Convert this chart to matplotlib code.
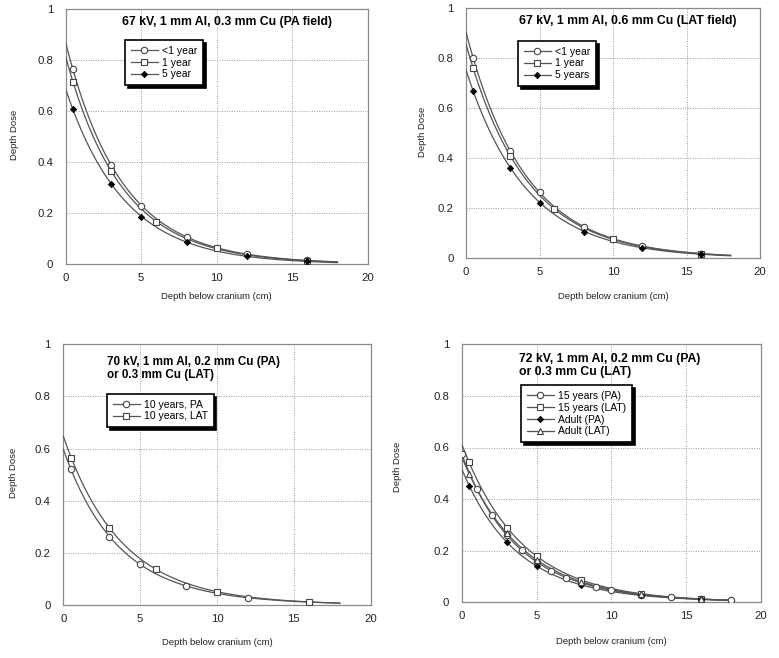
import numpy as np
import matplotlib
matplotlib.use("Agg")
import matplotlib.pyplot as plt
from matplotlib.lines import Line2D

plt.rcParams['font.family'] = ['Liberation Sans', 'DejaVu Sans']

# ---------------- data ----------------
# Panel A: 67 kV, 1 mm Al, 0.3 mm Cu (PA field)
a_lt1_x = [0.5, 3, 5, 8, 12, 16]
a_lt1_y = [0.765, 0.39, 0.229, 0.106, 0.041, 0.015]
a_1y_x = [0.5, 3, 6, 10, 16]
a_1y_y = [0.716, 0.366, 0.165, 0.062, 0.014]
a_5y_x = [0.5, 3, 5, 8, 12, 16]
a_5y_y = [0.609, 0.315, 0.187, 0.086, 0.032, 0.011]

# Panel B: 67 kV, 1 mm Al, 0.6 mm Cu (LAT field)
b_lt1_x = [0.5, 3, 5, 8, 12, 16]
b_lt1_y = [0.80, 0.429, 0.265, 0.127, 0.049, 0.019]
b_1y_x = [0.5, 3, 6, 10, 16]
b_1y_y = [0.76, 0.41, 0.197, 0.076, 0.018]
b_5y_x = [0.5, 3, 5, 8, 12, 16]
b_5y_y = [0.671, 0.363, 0.223, 0.107, 0.043, 0.016]

# Panel C: 70 kV
c_pa_x = [0.5, 3, 5, 8, 12]
c_pa_y = [0.521, 0.263, 0.157, 0.074, 0.029]
c_lat_x = [0.5, 3, 6, 10, 16]
c_lat_y = [0.566, 0.298, 0.139, 0.052, 0.013]

# Panel D: 72 kV
d_15pa_x = [0, 1, 2, 3, 4, 5, 6, 7, 8, 9, 10, 12, 14, 16, 18]
d_15pa_y = [0.575, 0.438, 0.337, 0.262, 0.203, 0.158, 0.123, 0.095, 0.075,
            0.059, 0.047, 0.029, 0.019, 0.012, 0.008]
d_15lat_x = [0.5, 3, 5, 8, 12, 16]
d_15lat_y = [0.545, 0.289, 0.178, 0.088, 0.033, 0.013]
d_adpa_x = [0.5, 3, 5, 8, 12, 16]
d_adpa_y = [0.452, 0.235, 0.141, 0.066, 0.027, 0.011]
d_adlat_x = [0.5, 3, 5, 8, 12, 16]
d_adlat_y = [0.497, 0.27, 0.165, 0.079, 0.031, 0.012]

xticks = [0, 5, 10, 15, 20]
yticks = [0, 0.2, 0.4, 0.6, 0.8, 1]
ytick_labels = ["0", "0.2", "0.4", "0.6", "0.8", "1"]
xlabel = "Depth below cranium (cm)"
ylabel = "Depth Dose"

LINE = '#555555'
GRID = '#9a9a9a'
SPINE = '#8a8a8a'

W, H = 779, 658
fig = plt.figure(figsize=(W / 100, H / 100), dpi=100)


def px_axes(l, t, r, b):
    return fig.add_axes([l / W, 1 - b / H, (r - l) / W, (b - t) / H])


MSTYLE = {
    'circle': dict(marker='o', mfc='white', mec='#444444', ms=4.6, mew=0.8),
    'square': dict(marker='s', mfc='white', mec='#444444', ms=4.6, mew=0.8),
    'filled': dict(marker='D', mfc='black', mec='black', ms=3.2, mew=0.6),
    'tri': dict(marker='^', mfc='white', mec='#444444', ms=4.8, mew=0.8),
}


def fit_curve(x, y):
    c = np.polyfit(np.asarray(x, float), np.log(np.asarray(y, float)), 2)
    xs = np.linspace(0, 18, 200)
    return xs, np.exp(np.polyval(c, xs))


def panel(ax, series, title_lines, title_pos, title_size, leg_pos,
          xl_y, yl_x, yl_y):
    ax.set_xlim(0, 20)
    ax.set_ylim(0, 1)
    ax.set_xticks(xticks)
    ax.set_xticklabels([str(v) for v in xticks])
    ax.set_yticks(yticks)
    ax.set_yticklabels(ytick_labels)
    ax.tick_params(length=0, labelsize=8.2, colors='#222222', pad=6)
    ax.tick_params(axis='y', pad=9)
    ax.grid(True, linestyle=(0, (1, 1.5)), color=GRID, linewidth=0.7)
    ax.set_axisbelow(True)
    for s in ax.spines.values():
        s.set_color(SPINE)
        s.set_linewidth(0.9)
    handles = []
    for x, y, style, lab in series:
        xs, ys = fit_curve(x, y)
        ax.plot(xs, ys, color=LINE, lw=0.9, zorder=3)
        ax.plot(x, y, linestyle='none', zorder=4, **MSTYLE[style])
        handles.append(Line2D([], [], color=LINE, lw=0.9, **MSTYLE[style]))
    ax.text(title_pos[0], title_pos[1], "\n".join(title_lines),
            transform=ax.transAxes, fontsize=title_size, fontweight='bold',
            ha='left', va='top', linespacing=1.1, zorder=6)
    leg = ax.legend(handles, [s[3] for s in series], loc='upper left',
                    bbox_to_anchor=leg_pos, fontsize=7.5, numpoints=1,
                    handlelength=2.6, handletextpad=0.4, labelspacing=0.18,
                    borderpad=0.55, borderaxespad=0, fancybox=False,
                    frameon=True, shadow={'color': 'black', 'alpha': 1.0},
                    framealpha=1)
    leg.get_frame().set_edgecolor('black')
    leg.get_frame().set_linewidth(1.2)
    leg.set_zorder(7)
    ax.set_xlabel(xlabel, fontsize=6.8, color='#222222')
    ax.set_ylabel(ylabel, fontsize=6.8, color='#222222')
    ax.xaxis.set_label_coords(0.5, xl_y)
    ax.yaxis.set_label_coords(yl_x, yl_y)


axA = px_axes(65.7, 9.3, 367.7, 264.3)
panel(axA,
      [(a_lt1_x, a_lt1_y, 'circle', '<1 year'),
       (a_1y_x, a_1y_y, 'square', '1 year'),
       (a_5y_x, a_5y_y, 'filled', '5 year')],
      ["67 kV, 1 mm Al, 0.3 mm Cu (PA field)"], (0.186, 0.975), 8.8,
      (0.196, 0.88), -0.11, -0.156, 0.507)

axB = px_axes(466, 8.3, 760, 258.3)
panel(axB,
      [(b_lt1_x, b_lt1_y, 'circle', '<1 year'),
       (b_1y_x, b_1y_y, 'square', '1 year'),
       (b_5y_x, b_5y_y, 'filled', '5 years')],
      ["67 kV, 1 mm Al, 0.6 mm Cu (LAT field)"], (0.181, 0.972), 8.8,
      (0.177, 0.87), -0.133, -0.134, 0.505)

axC = px_axes(63.3, 344.3, 370.7, 605.3)
panel(axC,
      [(c_pa_x, c_pa_y, 'circle', '10 years, PA'),
       (c_lat_x, c_lat_y, 'square', '10 years, LAT')],
      ["70 kV, 1 mm Al, 0.2 mm Cu (PA)", "or 0.3 mm Cu (LAT)"], (0.143, 0.955),
      8.4, (0.142, 0.81), -0.127, -0.146, 0.507)

axD = px_axes(461.7, 344.3, 761, 602.3)
panel(axD,
      [(d_15pa_x, d_15pa_y, 'circle', '15 years (PA)'),
       (d_15lat_x, d_15lat_y, 'square', '15 years (LAT)'),
       (d_adpa_x, d_adpa_y, 'filled', 'Adult (PA)'),
       (d_adlat_x, d_adlat_y, 'tri', 'Adult (LAT)')],
      ["72 kV, 1 mm Al, 0.2 mm Cu (PA)", "or 0.3 mm Cu (LAT)"], (0.192, 0.965),
      8.8, (0.198, 0.842), -0.136, -0.198, 0.524)

fig.savefig("out.png", dpi=100)
